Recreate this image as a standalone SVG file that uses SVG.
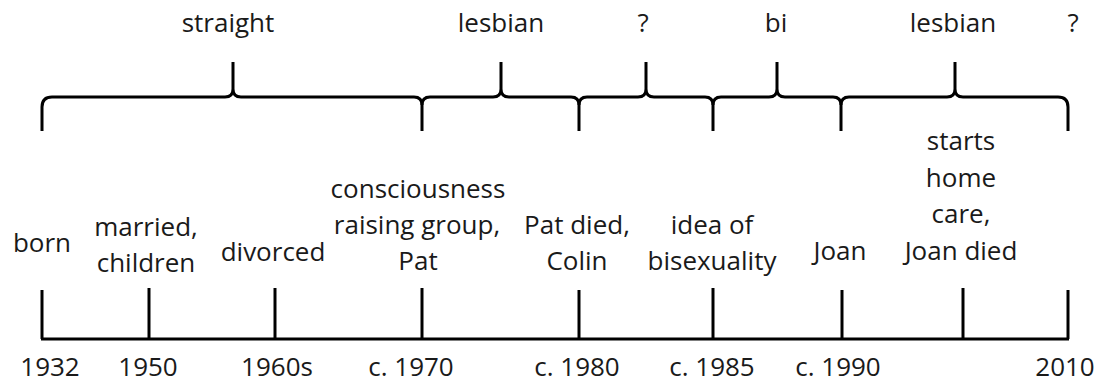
<svg xmlns="http://www.w3.org/2000/svg" width="1101" height="383" viewBox="0 0 1101 383">
<style>
text{font-family:"Open Sans","Liberation Sans",sans-serif;font-size:26px;fill:#1a1a1a;text-anchor:middle}
.ln{fill:none;stroke:#000;stroke-width:3;stroke-linejoin:round}
</style>
<rect width="1101" height="383" fill="#fff"/>
<g id="braces">
<g id="brace-straight"><path class="ln" d="M42 131 L42 107 Q42 97 52 97 L225 97 Q233 97 233 89 L233 62 M233 89 Q233 97 241 97 L414 97 Q422 97 422 105 L422 131"/><text x="228" y="32">straight</text></g>
<g id="brace-lesbian1"><path class="ln" d="M422 105 Q422 97 430 97 L493 97 Q501 97 501 89 L501 62 M501 89 Q501 97 509 97 L571 97 Q579 97 579 105 L579 131"/><text x="501" y="32">lesbian</text></g>
<g id="brace-q1"><path class="ln" d="M579 105 Q579 97 587 97 L638 97 Q646 97 646 89 L646 62 M646 89 Q646 97 654 97 L705 97 Q713 97 713 105 L713 131"/><text x="643" y="32">?</text></g>
<g id="brace-bi"><path class="ln" d="M713 105 Q713 97 721 97 L769 97 Q777 97 777 89 L777 62 M777 89 Q777 97 785 97 L833 97 Q841 97 841 105 L841 131"/><text x="776" y="32">bi</text></g>
<g id="brace-lesbian2"><path class="ln" d="M841 105 Q841 97 849 97 L947 97 Q955 97 955 89 L955 62 M955 89 Q955 97 963 97 L1058 97 Q1068 97 1068 107 L1068 131"/><text x="953" y="32">lesbian</text></g>
<text id="label-q2" x="1073" y="32">?</text>
</g>
<g id="connectors">
<path class="ln" d="M41 339 L1069 339"/>
</g>
<g id="ev-1932"><path class="ln" d="M42 290 L42 339"/><text x="42" y="252">born</text><text x="50" y="376">1932</text></g>
<g id="ev-1950"><path class="ln" d="M149 288 L149 339"/><text x="146" y="236">married,</text><text x="146" y="272">children</text><text x="148" y="376">1950</text></g>
<g id="ev-1960s"><path class="ln" d="M275 288 L275 339"/><text x="273" y="261">divorced</text><text x="277" y="376">1960s</text></g>
<g id="ev-1970"><path class="ln" d="M422 288 L422 339"/><text x="418" y="198">consciousness</text><text x="417" y="234">raising group,</text><text x="418" y="270">Pat</text><text x="411" y="376">c. 1970</text></g>
<g id="ev-1980"><path class="ln" d="M579 290 L579 339"/><text x="577" y="234">Pat died,</text><text x="577" y="270">Colin</text><text x="577" y="376">c. 1980</text></g>
<g id="ev-1985"><path class="ln" d="M713 288 L713 339"/><text x="712" y="234">idea of</text><text x="712" y="270">bisexuality</text><text x="712" y="376">c. 1985</text></g>
<g id="ev-1990"><path class="ln" d="M842 290 L842 339"/><text x="840" y="260">Joan</text><text x="838" y="376">c. 1990</text></g>
<g id="ev-homecare"><path class="ln" d="M963 288 L963 339"/><text x="961" y="150">starts</text><text x="961" y="187">home</text><text x="961" y="223">care,</text><text x="961" y="260">Joan died</text></g>
<g id="ev-2010"><path class="ln" d="M1068 290 L1068 339"/><text x="1065" y="376">2010</text></g>
</svg>
